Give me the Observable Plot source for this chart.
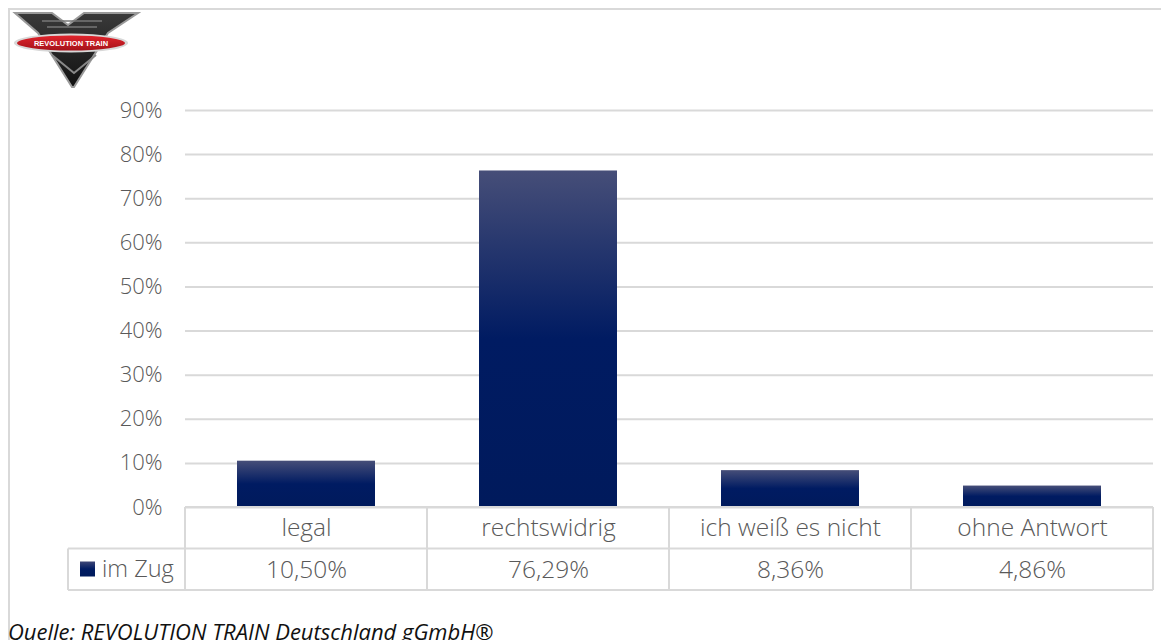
<!DOCTYPE html>
<html>
<head>
<meta charset="utf-8">
<script src="https://cdn.jsdelivr.net/npm/d3@7"></script>
<script src="https://cdn.jsdelivr.net/npm/@observablehq/plot@0.6"></script>
<style>
  html, body { margin: 0; padding: 0; background: #fff; }
  #wrap { position: relative; width: 1161px; height: 640px; overflow: hidden; font-family: "Open Sans", sans-serif; }
  #frame { position: absolute; left: 8px; top: 8px; width: 1160px; height: 700px;
           border-top: 2px solid #d9d9d9; border-left: 2px solid #d9d9d9; box-sizing: border-box; }
  #chart { position: absolute; left: 0; top: 0; }
  #logo { position: absolute; left: 12px; top: 11px; }
  #caption { position: absolute; left: 8px; top: 619px; font-family: "Open Sans", sans-serif; font-style: italic;
             font-size: 22px; line-height: 24px; color: #111; white-space: nowrap; }
</style>
</head>
<body>
<div id="wrap">
  <div id="frame"></div>
  <div id="chart"></div>
  <svg id="logo" width="130" height="80" viewBox="0 0 130 80">
    <defs>
      <linearGradient id="vg" x1="0" y1="0" x2="0" y2="1">
        <stop offset="0" stop-color="#3a3a3a"/>
        <stop offset="1" stop-color="#111"/>
      </linearGradient>
      <linearGradient id="rg" x1="0" y1="0" x2="0" y2="1">
        <stop offset="0" stop-color="#e0242c"/>
        <stop offset="1" stop-color="#a5121a"/>
      </linearGradient>
    </defs>
    <path d="M3,2 L40,2 L56,14 L72,2 L126,2 L96,22 L62,76 L60,76 L26,22 Z" fill="url(#vg)" stroke="#9a9a9a" stroke-width="2"/>
    <path d="M30,10 L90,10 M35,16 L85,16" stroke="#777" stroke-width="1.5"/>
    <path d="M40,44 L62,62 L84,44" fill="none" stroke="#888" stroke-width="2"/>
    <ellipse cx="59" cy="32" rx="57" ry="9.5" fill="#d8d8d8"/>
    <ellipse cx="59" cy="32" rx="54" ry="7.5" fill="url(#rg)"/>
    <text x="59" y="35" text-anchor="middle" font-family="Liberation Sans, Arial, sans-serif" font-size="7.5" font-weight="bold" fill="#fff">REVOLUTION  TRAIN</text>
  </svg>
  <div id="caption">Quelle: REVOLUTION TRAIN Deutschland gGmbH®</div>
</div>
<script>
const categories = ["legal", "rechtswidrig", "ich weiß es nicht", "ohne Antwort"];
const values = [0.1050, 0.7629, 0.0836, 0.0486];
const valueLabels = ["10,50%", "76,29%", "8,36%", "4,86%"];
const seriesName = "im Zug";
const yTicks = [0, 0.1, 0.2, 0.3, 0.4, 0.5, 0.6, 0.7, 0.8, 0.9];

const data = categories.map((c, i) => ({category: c, value: values[i], label: valueLabels[i]}));

const W = 1161, H = 600;
const textColor = "#595959";
const lineColor = "#d9d9d9";
const axisFontSize = 22;
const tableFontSize = 24.5;
const font = "'Open Sans', sans-serif";

const plot = Plot.plot({
  width: W,
  height: H,
  marginTop: 110,
  marginBottom: 93,
  marginLeft: 185,
  marginRight: 8,
  style: {fontFamily: font, fontWeight: 300, fontSize: axisFontSize + "px", color: textColor, background: "transparent"},
  x: {domain: categories, padding: 0, axis: null},
  y: {domain: [0, 0.9], ticks: yTicks, tickFormat: d3.format(".0%"), tickSize: 0, tickPadding: 23, label: null},
  marks: [
    Plot.gridY(yTicks, {stroke: lineColor, strokeOpacity: 1, strokeWidth: 2}),
    Plot.barY(data, {x: "category", y: "value", fill: "url(#barGrad)", insetLeft: 52, insetRight: 52,
      style: {filter: "drop-shadow(2px 2px 3px rgba(0,0,0,0.35))"}}),
    Plot.axisY({ticks: yTicks, tickFormat: d3.format(".0%"), tickSize: 0, tickPadding: 23, label: null,
      fill: textColor, fontSize: axisFontSize}),
    Plot.text(data, {x: "category", y: 0, text: "category", dy: 21, fill: textColor, fontSize: tableFontSize}),
    Plot.text(data, {x: "category", y: 0, text: "label", dy: 63, fill: textColor, fontSize: tableFontSize})
  ]
});

// gradient definitions
const svg = d3.select(plot);
const defs = svg.insert("defs", ":first-child");
const g = defs.append("linearGradient").attr("id", "barGrad").attr("x1", 0).attr("y1", 0).attr("x2", 0).attr("y2", 1);
g.append("stop").attr("offset", 0).attr("stop-color", "#464e78");
g.append("stop").attr("offset", 0.5).attr("stop-color", "#001b62");
g.append("stop").attr("offset", 1).attr("stop-color", "#001a5c");
const lg = defs.append("linearGradient").attr("id", "legGrad").attr("x1", 0).attr("y1", 0).attr("x2", 0).attr("y2", 1);
lg.append("stop").attr("offset", 0).attr("stop-color", "#3d4676");
lg.append("stop").attr("offset", 0.5).attr("stop-color", "#001b62");
lg.append("stop").attr("offset", 1).attr("stop-color", "#001a5c");

// data table lines, using the plot's own scales
const xs = plot.scale("x"), ys = plot.scale("y");
const bw = xs.bandwidth;
const y0 = ys.apply(0);
const rowH = 41.5;
const left = xs.apply(categories[0]);
const right = xs.apply(categories[categories.length - 1]) + bw;
const legendLeft = 68;
const tbl = svg.append("g").attr("stroke", lineColor).attr("stroke-width", 2).attr("fill", "none");
tbl.append("line").attr("x1", left).attr("x2", right).attr("y1", y0).attr("y2", y0);
tbl.append("line").attr("x1", legendLeft).attr("x2", right).attr("y1", y0 + rowH).attr("y2", y0 + rowH);
tbl.append("line").attr("x1", legendLeft).attr("x2", right).attr("y1", y0 + 2 * rowH).attr("y2", y0 + 2 * rowH);
categories.forEach(c => {
  const x = xs.apply(c);
  tbl.append("line").attr("x1", x).attr("x2", x).attr("y1", y0).attr("y2", y0 + 2 * rowH);
});
tbl.append("line").attr("x1", right).attr("x2", right).attr("y1", y0).attr("y2", y0 + 2 * rowH);
tbl.append("line").attr("x1", legendLeft).attr("x2", legendLeft).attr("y1", y0 + rowH).attr("y2", y0 + 2 * rowH);

// legend key in table
svg.append("rect").attr("x", 80).attr("y", y0 + rowH + 13).attr("width", 15).attr("height", 15).attr("fill", "url(#legGrad)");
svg.append("text").attr("x", 102).attr("y", y0 + rowH + rowH / 2).attr("dy", "0.35em")
  .attr("text-anchor", "start")
  .attr("fill", textColor).attr("font-size", 23.5).attr("font-family", font).attr("font-weight", 300)
  .text(seriesName);

document.getElementById("chart").appendChild(plot);
</script>
</body>
</html>
